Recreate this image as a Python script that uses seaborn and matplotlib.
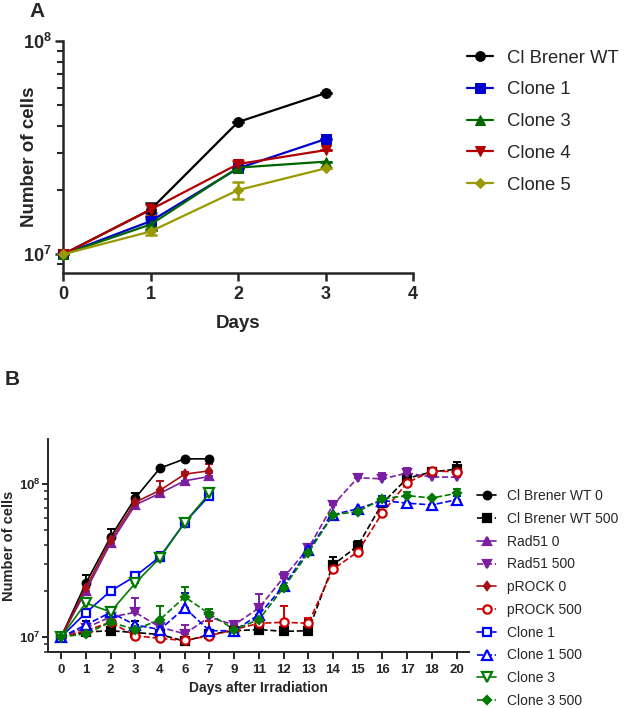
import numpy as np
import pandas as pd
import matplotlib
matplotlib.use("Agg")
import matplotlib.pyplot as plt
import matplotlib.ticker as mticker
import seaborn as sns

sns.set_style("ticks")
plt.rcParams["font.family"] = ["Liberation Sans", "DejaVu Sans"]
plt.rcParams["mathtext.fontset"] = "custom"
plt.rcParams["mathtext.rm"] = "Liberation Sans"
plt.rcParams["mathtext.bf"] = "Liberation Sans:bold"

# ---------------- Panel A data ----------------
days_a = [0, 1, 2, 3]
wt_a = [1.0e7, 1.62e7, 4.17e7, 5.7e7]
clone1_a = [1.0e7, 1.43e7, 2.53e7, 3.47e7]
clone3_a = [1.0e7, 1.38e7, 2.55e7, 2.72e7]
clone4_a = [1.0e7, 1.62e7, 2.65e7, 3.08e7]
clone5_a = [1.0e7, 1.28e7, 2.0e7, 2.53e7]
wt_a_err = [0, 1.3e6, 0, 0]
clone1_a_err = [0, 1.3e6, 0, 0]
clone3_a_err = [0, 0.8e6, 0, 0]
clone4_a_err = [0, 1.0e6, 0.9e6, 0]
clone5_a_err = [0, 0.5e6, 1.9e6, 0]
labels_a = ["Cl Brener WT", "Clone 1", "Clone 3", "Clone 4", "Clone 5"]

# ---------------- Panel B data ----------------
days_b = ["0", "1", "2", "3", "4", "6", "7", "9", "11", "12", "13",
          "14", "15", "16", "17", "18", "20"]
wt0 = [1.0e7, 2.25e7, 4.5e7, 8.1e7, 1.27e8, 1.46e8, 1.46e8]
wt500 = [1.0e7, 1.08e7, 1.1e7, 1.07e7, 1.04e7, 9.4e6, 1.04e7, 1.1e7, 1.12e7,
         1.09e7, 1.1e7, 2.96e7, 3.95e7, 7.5e7, 1.09e8, 1.2e8, 1.25e8]
rad0 = [1.0e7, 2.0e7, 4.1e7, 7.3e7, 8.7e7, 1.05e8, 1.12e8]
rad500 = [1.0e7, 1.15e7, 1.35e7, 1.45e7, 1.16e7, 1.05e7, 1.35e7, 1.2e7, 1.55e7,
          2.45e7, 3.8e7, 7.3e7, 1.1e8, 1.08e8, 1.18e8, 1.11e8, 1.11e8]
prock0 = [1.0e7, 2.1e7, 4.3e7, 7.6e7, 9.1e7, 1.16e8, 1.22e8]
prock500 = [1.0e7, 1.1e7, 1.25e7, 1.02e7, 9.8e6, 9.5e6, 1.02e7, 1.12e7, 1.23e7,
            1.25e7, 1.23e7, 2.78e7, 3.6e7, 6.5e7, 1.02e8, 1.22e8, 1.2e8]
clone1 = [1.0e7, 1.44e7, 2.0e7, 2.5e7, 3.35e7, 5.6e7, 8.4e7]
clone1_500 = [1.0e7, 1.2e7, 1.45e7, 1.2e7, 1.12e7, 1.55e7, 1.1e7, 1.1e7, 1.4e7,
              2.15e7, 3.7e7, 6.3e7, 6.9e7, 7.8e7, 7.5e7, 7.3e7, 7.9e7]
clone3 = [1.0e7, 1.67e7, 1.46e7, 2.25e7, 3.3e7, 5.6e7, 8.7e7]
clone3_500 = [1.0e7, 1.05e7, 1.25e7, 1.12e7, 1.3e7, 1.83e7, 1.42e7, 1.12e7, 1.3e7,
              2.1e7, 3.55e7, 6.3e7, 6.6e7, 8.0e7, 8.4e7, 8.1e7, 8.7e7]

wt0_err = [0, 0.3e7, 0.6e7, 0.6e7, 0.1e7, 0, 0]
wt500_err = [0, 0.2e7, 0, 0.2e7, 0, 0, 0, 0, 0, 0, 0.2e7, 0.4e7, 0.3e7, 0.5e7, 0.1e8, 0.05e8, 0.15e8]
rad0_err = [0, 0, 0, 0, 0.05e7, 0, 0.6e7]
rad500_err = [0, 0, 0.1e7, 0.35e7, 0.1e7, 0.15e7, 0.1e7, 0, 0.35e7, 0.2e7, 0.2e7, 0.5e7, 0, 0.1e8, 0.1e8, 0, 0]
prock0_err = [0, 0, 0, 0, 1.4e7, 0.3e7, 1.3e7]
prock500_err = [0, 0, 0, 0, 0, 0, 0.25e7, 0.15e7, 0.05e7, 0.35e7, 0.1e7, 0, 0, 0, 0, 0, 0]
clone1_err = [0, 0, 0, 0, 0.25e7, 0, 0.05e7]
clone1_500_err = [0, 0, 0, 0, 0, 0.4e7, 0, 0, 0.1e7, 0, 0, 0, 0, 0.6e7, 0, 0, 0.4e7]
clone3_err = [0, 0.1e7, 0, 0.1e7, 0, 0, 0.5e7]
clone3_500_err = [0, 0, 0, 0, 0.3e7, 0.3e7, 0.1e7, 0, 0, 0, 0, 0, 0, 0, 0.5e7, 0, 0.6e7]

fig = plt.figure(figsize=(6.25, 7.08), dpi=100)

def sup_label(v, pos=None):
    e = int(round(np.log10(v)))
    return r"$\mathbf{10^{%d}}$" % e

# ---------------- Panel A ----------------
axA = fig.add_axes([0.1008, 0.614, 0.560, 0.328])
series_a = [
    (labels_a[0], wt_a, wt_a_err, "black", "o", 7),
    (labels_a[1], clone1_a, clone1_a_err, "#0000CC", "s", 7),
    (labels_a[2], clone3_a, clone3_a_err, "#006600", "^", 7),
    (labels_a[3], clone4_a, clone4_a_err, "#B00000", "v", 7),
    (labels_a[4], clone5_a, clone5_a_err, "#999900", "D", 5),
]
for name, vals, err, col, mk, ms in series_a:
    df = pd.DataFrame({"Days": days_a, "cells": vals})
    axA.errorbar(days_a, vals, yerr=[err, err], fmt="none", ecolor=col,
                 elinewidth=1.8, capsize=4, capthick=1.8, zorder=2, clip_on=False)
    sns.lineplot(data=df, x="Days", y="cells", ax=axA, color=col, marker=mk,
                 markersize=ms, markeredgecolor=col, linewidth=1.6, label=name,
                 clip_on=False, zorder=3)
axA.set_yscale("log")
axA.set_xlim(0, 4)
axA.set_ylim(8.15e6, 1.0e8)
axA.set_xticks([0, 1, 2, 3, 4])
axA.yaxis.set_major_locator(mticker.FixedLocator([1e7, 1e8]))
axA.yaxis.set_major_formatter(mticker.FuncFormatter(sup_label))
axA.yaxis.set_minor_locator(mticker.LogLocator(base=10, subs=np.arange(2, 10)))
axA.yaxis.set_minor_formatter(mticker.NullFormatter())
for s in ["top", "right"]:
    axA.spines[s].set_visible(False)
for s in ["left", "bottom"]:
    axA.spines[s].set_linewidth(1.8)
axA.tick_params(axis="both", which="major", length=6, width=1.8, labelsize=13)
axA.tick_params(axis="y", which="major", pad=2)
axA.tick_params(axis="y", which="minor", length=4, width=1.5)
for t in axA.get_xticklabels():
    t.set_fontweight("bold")
axA.set_xlabel("Days", fontsize=13.5, fontweight="bold", labelpad=8)
axA.set_ylabel("Number of cells", fontsize=13.5, fontweight="bold")
axA.yaxis.set_label_coords(-0.071, 0.5)
axA.legend(loc="upper left", bbox_to_anchor=(0.747, 0.930), bbox_transform=fig.transFigure,
           frameon=False, fontsize=13.3, handlelength=1.4, handletextpad=0.78,
           labelspacing=0.8, borderpad=0, borderaxespad=0)
fig.text(0.047, 0.997, "A", fontsize=15, fontweight="bold", va="top")

# ---------------- Panel B ----------------
axB = fig.add_axes([0.0768, 0.079, 0.6736, 0.301])
pos_b = list(range(len(days_b)))
series_b = [
    ("Cl Brener WT 0", wt0, wt0_err, "black", "o", "-", "black", 5.5),
    ("Cl Brener WT 500", wt500, wt500_err, "black", "s", "--", "black", 5.5),
    ("Rad51 0", rad0, rad0_err, "#7B1FA2", "^", "-", "#7B1FA2", 5.5),
    ("Rad51 500", rad500, rad500_err, "#7B1FA2", "v", "--", "#7B1FA2", 5.5),
    ("pROCK 0", prock0, prock0_err, "#A50F15", "d", "-", "#A50F15", 4.5),
    ("pROCK 500", prock500, prock500_err, "#CC0000", "o", "--", "white", 6),
    ("Clone 1", clone1, clone1_err, "#0000FF", "s", "-", "white", 6),
    ("Clone 1 500", clone1_500, clone1_500_err, "#0000FF", "^", "--", "white", 6.5),
    ("Clone 3", clone3, clone3_err, "#007A00", "v", "-", "white", 6.5),
    ("Clone 3 500", clone3_500, clone3_500_err, "#007A00", "D", "--", "#007A00", 4.5),
]
for name, vals, err, col, mk, ls, fc, ms in series_b:
    n = len(vals)
    df = pd.DataFrame({"day": pos_b[:n], "cells": vals})
    axB.errorbar(pos_b[:n], vals, yerr=[np.zeros(n), err], fmt="none", ecolor=col,
                 elinewidth=1.4, capsize=3, capthick=1.4, zorder=2)
    sns.lineplot(data=df, x="day", y="cells", ax=axB, color=col, marker=mk,
                 markersize=ms, markerfacecolor=fc, markeredgecolor=col,
                 markeredgewidth=1.6, linewidth=1.2, linestyle=ls, label=name, zorder=3)
axB.set_yscale("log")
axB.set_xlim(-0.53, 16.5)
axB.set_ylim(7.98e6, 1.97e8)
axB.set_xticks(pos_b)
axB.set_xticklabels(days_b, fontweight="bold")
axB.yaxis.set_major_locator(mticker.FixedLocator([1e7, 1e8]))
axB.yaxis.set_major_formatter(mticker.FuncFormatter(sup_label))
axB.yaxis.set_minor_locator(mticker.LogLocator(base=10, subs=np.arange(2, 10)))
axB.yaxis.set_minor_formatter(mticker.NullFormatter())
for s in ["top", "right"]:
    axB.spines[s].set_visible(False)
for s in ["left", "bottom"]:
    axB.spines[s].set_linewidth(1.4)
axB.tick_params(axis="x", which="major", length=5, width=1.4, labelsize=9.5)
axB.tick_params(axis="y", which="major", length=4, width=1.4, labelsize=9.5, pad=1.5)
axB.tick_params(axis="y", which="minor", length=3, width=1.1)
axB.set_xlabel("Days after Irradiation", fontsize=10, fontweight="bold", labelpad=4)
axB.set_ylabel("Number of cells", fontsize=10.5, fontweight="bold")
axB.yaxis.set_label_coords(-0.076, 0.5)
axB.legend(loc="upper left", bbox_to_anchor=(0.763, 0.309), bbox_transform=fig.transFigure,
           frameon=False, fontsize=10, handlelength=1.4, handletextpad=0.8,
           labelspacing=0.63, borderpad=0, borderaxespad=0)
fig.text(0.008, 0.478, "B", fontsize=15, fontweight="bold", va="top")

fig.savefig("out.png", dpi=100)
